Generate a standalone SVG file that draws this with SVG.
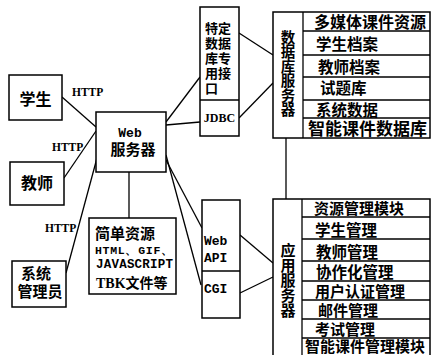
<svg xmlns="http://www.w3.org/2000/svg" width="432" height="355" viewBox="0 0 432 355">
<style>
.box{fill:#fff;stroke:#000;stroke-width:1.5}
.ln{fill:none;stroke:#000;stroke-width:1.3}
.cn{font-family:"Noto Sans CJK SC","Noto Sans",sans-serif;font-weight:700;fill:#000}
.vt{writing-mode:vertical-rl;text-orientation:upright}
.sf{font-family:"Liberation Serif",serif;font-weight:700;fill:#000}
.mn{font-family:"Liberation Mono",monospace;font-weight:700;fill:#000}
</style>
<rect width="432" height="355" fill="#fff"/>
<g id="connectors">
<line class="ln" x1="62" y1="97" x2="96" y2="127"/>
<line class="ln" x1="64" y1="178" x2="96" y2="131"/>
<line class="ln" x1="66" y1="273" x2="97" y2="158"/>
<line class="ln" x1="129" y1="172" x2="129" y2="218"/>
<line class="ln" x1="166" y1="122" x2="200" y2="77"/>
<line class="ln" x1="166" y1="125" x2="200" y2="122"/>
<line class="ln" x1="166" y1="155" x2="201" y2="285"/>
<line class="ln" x1="166" y1="160" x2="202" y2="228"/>
<line class="ln" x1="239" y1="33" x2="273" y2="55"/>
<line class="ln" x1="239" y1="118" x2="273" y2="83"/>
<line class="ln" x1="240" y1="235" x2="273" y2="263"/>
<line class="ln" x1="240" y1="293" x2="273" y2="277"/>
<line class="ln" x1="286" y1="138" x2="286" y2="199"/>
<text class="sf" x="72" y="96" font-size="11.5">HTTP</text>
<text class="sf" x="52" y="151" font-size="11.5">HTTP</text>
<text class="sf" x="45" y="232" font-size="11.5">HTTP</text>
</g>
<g id="student">
<rect class="box" x="9" y="75" width="53" height="45"/>
<text class="cn" x="35.5" y="105" font-size="16" text-anchor="middle">学生</text>
</g>
<g id="teacher">
<rect class="box" x="10" y="162" width="54" height="43"/>
<text class="cn" x="37" y="189" font-size="16" text-anchor="middle">教师</text>
</g>
<g id="admin">
<rect class="box" x="12" y="261" width="54" height="46"/>
<text class="cn" x="36" y="279" font-size="15" text-anchor="middle">系统</text>
<text class="cn" x="40" y="297" font-size="15" text-anchor="middle">管理员</text>
</g>
<g id="webserver">
<rect class="box" x="96" y="112" width="70" height="60"/>
<text class="mn" x="130" y="137" font-size="13" text-anchor="middle">Web</text>
<text class="cn" x="133" y="155" font-size="15" text-anchor="middle">服务器</text>
</g>
<g id="simple-resources">
<rect class="box" x="89" y="218" width="87" height="76"/>
<text class="cn" x="95" y="239" font-size="15">简单资源</text>
<text class="mn" x="95" y="254" font-size="11.5" textLength="78">HTML、GIF、</text>
<text class="mn" x="96" y="268" font-size="12.5" textLength="77">JAVASCRIPT</text>
<text x="96" y="288" font-size="14"><tspan class="sf">TBK</tspan><tspan class="cn">文件等</tspan></text>
</g>
<g id="db-interface">
<rect class="box" x="200" y="7" width="39" height="129"/>
<line class="ln" x1="200" y1="100" x2="239" y2="100"/>
<text class="cn" x="205" y="33" font-size="13">特定</text>
<text class="cn" x="205" y="48" font-size="13">数据</text>
<text class="cn" x="205" y="63" font-size="13">库专</text>
<text class="cn" x="205" y="78" font-size="13">用接</text>
<text class="cn" x="205" y="93" font-size="13">口</text>
<text class="sf" x="219.5" y="122" font-size="12" text-anchor="middle">JDBC</text>
</g>
<g id="webapi-cgi">
<rect class="box" x="202" y="200" width="38" height="118"/>
<line class="ln" x1="202" y1="271" x2="240" y2="271"/>
<text class="mn" x="204" y="245" font-size="13">Web</text>
<text class="mn" x="204" y="262" font-size="13">API</text>
<text class="mn" x="204" y="293" font-size="13">CGI</text>
</g>
<g id="db-server">
<rect class="box" x="273" y="12" width="157" height="126"/>
<line class="ln" x1="303" y1="12" x2="303" y2="138"/>
<line class="ln" x1="303" y1="31" x2="430" y2="31"/>
<line class="ln" x1="303" y1="55" x2="430" y2="55"/>
<line class="ln" x1="303" y1="77" x2="430" y2="77"/>
<line class="ln" x1="303" y1="100" x2="430" y2="100"/>
<line class="ln" x1="303" y1="118" x2="430" y2="118"/>
<text class="cn vt" x="288" y="30" font-size="14.5">数据库服务器</text>
<text class="cn" x="314" y="28" font-size="16">多媒体课件资源</text>
<text class="cn" x="316" y="50" font-size="15.5">学生档案</text>
<text class="cn" x="318" y="73" font-size="15.5">教师档案</text>
<text class="cn" x="320" y="94" font-size="15.5">试题库</text>
<text class="cn" x="316" y="116" font-size="15.5">系统数据</text>
<text class="cn" x="308" y="135" font-size="17">智能课件数据库</text>
</g>
<g id="app-server">
<rect class="box" x="273" y="199" width="157" height="160"/>
<line class="ln" x1="302" y1="199" x2="302" y2="359"/>
<line class="ln" x1="302" y1="217" x2="430" y2="217"/>
<line class="ln" x1="302" y1="239" x2="430" y2="239"/>
<line class="ln" x1="302" y1="261" x2="430" y2="261"/>
<line class="ln" x1="302" y1="281" x2="430" y2="281"/>
<line class="ln" x1="302" y1="300" x2="430" y2="300"/>
<line class="ln" x1="302" y1="319" x2="430" y2="319"/>
<line class="ln" x1="302" y1="338" x2="430" y2="338"/>
<text class="cn vt" x="288" y="243" font-size="15">应用服务器</text>
<text class="cn" x="314" y="214" font-size="15">资源管理模块</text>
<text class="cn" x="315" y="236" font-size="15.5">学生管理</text>
<text class="cn" x="316" y="258" font-size="15.5">教师管理</text>
<text class="cn" x="316" y="278" font-size="15.5">协作化管理</text>
<text class="cn" x="315" y="297" font-size="15">用户认证管理</text>
<text class="cn" x="318" y="316" font-size="15">邮件管理</text>
<text class="cn" x="315" y="335" font-size="15">考试管理</text>
<text class="cn" x="305" y="352" font-size="15">智能课件管理模块</text>
</g>
</svg>
